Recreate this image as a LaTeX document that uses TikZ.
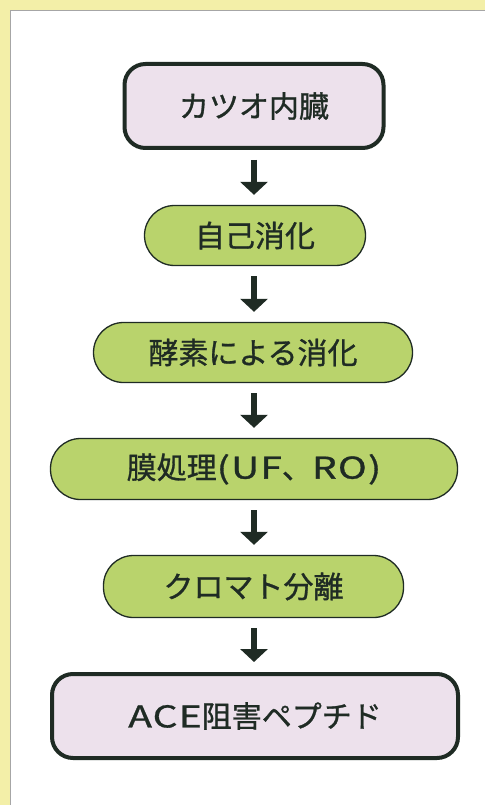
\documentclass[tikz,border=0pt]{standalone}
\usepackage{fontspec}
\setmainfont{Noto Sans CJK JP}[FakeBold=1.0]
\usetikzlibrary{arrows.meta}
\definecolor{strip}{HTML}{F3EFA8}
\definecolor{boxgreen}{HTML}{B9D36C}
\definecolor{boxpink}{HTML}{EDE1EC}
\definecolor{ink}{HTML}{1F2B24}
\newcommand\widelat[1]{{\addfontfeature{FakeStretch=1.3,LetterSpace=4}#1}}
\tikzset{
  endbox/.style={draw=ink, line width=4pt, fill=boxpink, rounded corners=21pt,
    inner sep=0pt, font=\fontsize{30}{32}\selectfont, text=ink},
  stepbox/.style={draw=ink, line width=1.3pt, fill=boxgreen, rounded corners=30pt,
    inner sep=0pt, minimum height=60pt, font=\fontsize{30}{32}\selectfont, text=ink},
  flowarrow/.style={draw=ink, line width=6pt, shorten <=10pt, shorten >=10pt,
    -{Triangle[width=27pt,length=13pt]}}
}
\begin{document}
\begin{tikzpicture}[x=1pt,y=-1pt]
\useasboundingbox (0,0) rectangle (485,805);
\fill[strip] (0,0) rectangle (485,805);
\fill[white] (10,10) rectangle (485,805);
\draw[gray!70, line width=0.8pt] (10,805) -- (10,10) -- (485,10);

\node[endbox, minimum width=259pt, minimum height=84pt] (a) at (254,106) {カツオ内臓};
\node[stepbox, minimum width=221pt] (b) at (255,235.5) {自己消化};
\node[stepbox, minimum width=319pt] (c) at (253,352.5) {酵素による消化};
\node[stepbox, minimum width=407pt, minimum height=61pt] (d) at (254,469) {膜処理\widelat{(UF}、\widelat{RO)}};
\node[stepbox, minimum width=300pt, minimum height=62pt] (e) at (253.5,586.5) {クロマト分離};
\node[endbox, minimum width=406pt, minimum height=84pt] (f) at (255,716) {\widelat{ACE}阻害ペプチド};

\draw[flowarrow] (a.south -| 254,0) -- (b.north -| 254,0);
\draw[flowarrow] (b.south -| 254,0) -- (c.north -| 254,0);
\draw[flowarrow] (c.south -| 254,0) -- (d.north -| 254,0);
\draw[flowarrow] (d.south -| 254,0) -- (e.north -| 254,0);
\draw[flowarrow] (e.south -| 254,0) -- (f.north -| 254,0);
\end{tikzpicture}
\end{document}
